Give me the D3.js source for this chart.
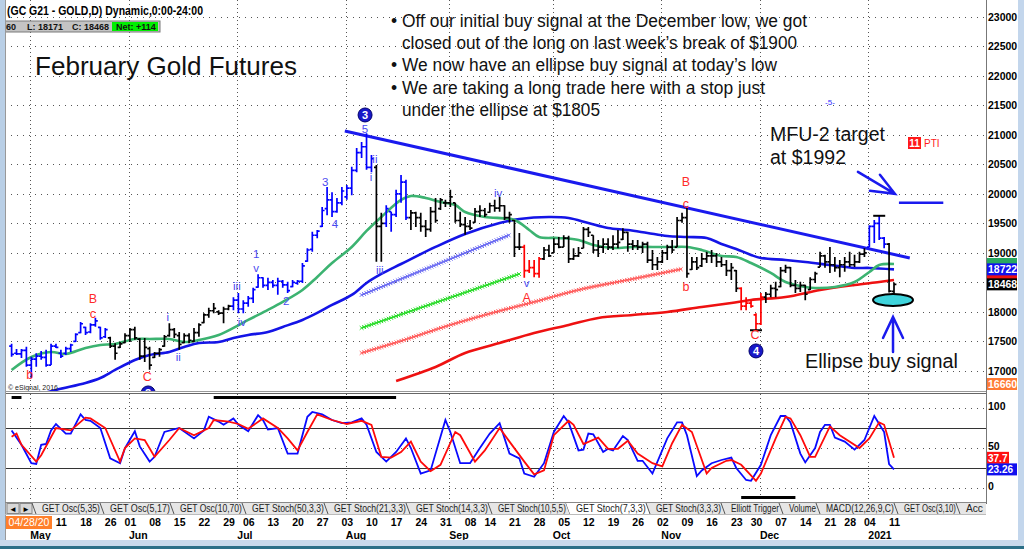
<!DOCTYPE html>
<html><head><meta charset="utf-8">
<script src="https://cdn.jsdelivr.net/npm/d3@7/dist/d3.min.js"></script>
<style>
html,body{margin:0;padding:0;background:#fff;overflow:hidden}
svg{display:block}
</style></head><body>
<svg id="chart" width="1024" height="549"></svg>
<script>
// ================= DATA =================
const firstDay = "2020-04-27", lastDay = "2021-01-11";
const holidays = ["2020-05-25","2020-07-03","2020-09-07","2020-11-26","2020-12-25","2021-01-01"];

// daily bars: [open, high, low, close]  (price x10, as on the axis)
const ohlc = [
[17420,17460,17240,17280],[17300,17370,17270,17290],[17290,17370,17220,17350],[17350,17410,17070,17100],
[17100,17240,16880,17200],[17200,17300,17070,17250],[17250,17340,17190,17230],[17230,17360,17070,17100],
[17100,17460,17100,17420],[17420,17460,17390,17400],[17300,17360,17220,17250],[17300,17410,17270,17380],
[17380,17460,17320,17440],[17500,17640,17490,17620],[17650,17830,17640,17800],[17740,17750,17610,17650],
[17660,17810,17640,17780],[17780,17900,17750,17850],[17740,17750,17530,17560],[17580,17730,17560,17700],
[17560,17580,17390,17420],[17420,17470,17190,17300],[17400,17490,17390,17460],[17480,17640,17470,17600],
[17600,17730,17490,17700],[17700,17750,17530,17560],[17540,17560,17190,17250],[17250,17560,17150,17400],
[17380,17410,17020,17100],[17230,17320,17220,17300],[17300,17390,17240,17360],[17420,17610,17410,17580],
[17600,17810,17580,17700],[17700,17730,17560,17620],[17600,17660,17360,17450],[17480,17640,17470,17600],
[17600,17640,17470,17520],[17500,17730,17490,17650],[17650,17810,17580,17780],[17820,17980,17810,17950],
[17950,18070,17900,18020],[18020,18150,17980,18060],[18000,18030,17950,17980],[17980,18090,17810,18050],
[18050,18120,18030,18100],[18100,18250,18030,18200],[18200,18320,17980,18050],[18050,18200,17980,18150],
[18150,18270,18090,18230],[18230,18410,18150,18380],[18420,18640,18410,18580],[18580,18590,18410,18450],
[18450,18580,18370,18500],[18500,18540,18410,18450],[18450,18580,18290,18520],[18520,18540,18410,18460],
[18460,18510,18320,18360],[18430,18540,18420,18500],[18490,18540,18460,18520],[18520,18830,18490,18780],
[18860,19080,18850,19050],[19060,19360,19020,19300],[19300,19390,19250,19370],[19450,19780,19440,19720],
[19750,20120,19640,19900],[19900,20030,19610,19700],[19700,19930,19680,19850],[19850,20120,19810,20050],
[19950,20150,19900,20100],[20100,20460,19980,20400],[20400,20780,20370,20700],[20700,20880,20610,20800],
[20800,21030,20410,20450],[20450,20660,20370,20600],[20450,20490,18850,19450],[19450,19680,18850,19500],
[19500,19810,19440,19750],[19700,19700,19360,19650],[19650,20070,19610,20000],[20000,20320,19850,20200],
[20200,20240,19560,19600],[19600,19730,19390,19680],[19680,19700,19440,19600],[19600,19680,19360,19450],
[19450,19560,19270,19400],[19400,19780,19360,19700],[19700,19930,19510,19550],[19750,19930,19730,19900],
[19850,19900,19780,19850],[19850,20070,19780,19950],[19850,19850,19510,19550],[19550,19700,19440,19480],
[19480,19610,19310,19450],[19450,19560,19390,19420],[19520,19760,19510,19700],[19700,19810,19610,19720],
[19720,19760,19610,19650],[19690,19850,19680,19800],[19800,19900,19700,19760],[19760,19950,19700,19800],
[19800,19810,19560,19600],[19600,19700,19510,19650],[19550,19560,18930,19100],[19100,19340,19050,19100],
[19100,19140,18580,18700],[18700,18880,18660,18750],[18750,18880,18590,18650],[18650,18930,18580,18900],
[18900,19100,18880,19050],[19050,19140,18930,18950],[19000,19250,19000,19150],[19150,19270,19080,19100],
[19100,19300,19100,19250],[19250,19290,18830,18900],[18900,19080,18880,18950],[18950,19100,18930,19000],
[19080,19440,19080,19400],[19400,19440,19270,19350],[19300,19300,19000,19050],[19050,19220,18930,19100],
[19100,19250,19000,19150],[19150,19250,19050,19100],[19100,19300,19050,19150],[19150,19390,19080,19180],
[19230,19420,19220,19350],[19350,19360,19020,19150],[19150,19220,19050,19120],[19120,19220,19050,19100],
[19100,19190,19000,19150],[19150,19190,18830,18880],[18880,19050,18710,18800],[18800,18930,18710,18850],
[18850,19050,18830,19000],[19000,19140,18880,19100],[19100,19220,19000,19050],[19100,19610,19100,19550],
[19550,19680,19510,19600],[19600,19760,18580,18650],[18720,18930,18710,18850],[18850,18930,18710,18750],
[18780,19000,18760,18900],[18900,19020,18830,18950],[18950,19050,18830,18950],[18950,19000,18760,18850],
[18850,18930,18760,18800],[18800,18880,18610,18700],[18700,18830,18540,18750],[18700,18710,18340,18400],
[18400,18420,18030,18100],[18100,18250,18030,18150],[18150,18200,18070,18100],[17950,17980,17690,17800],
[17800,18320,17780,18250],[18250,18340,18150,18300],[18300,18460,18250,18400],[18400,18510,18250,18380],
[18430,18760,18420,18700],[18700,18800,18660,18750],[18750,18760,18420,18450],[18450,18540,18320,18400],
[18400,18510,18340,18450],[18450,18460,18200,18300],[18380,18590,18370,18550],[18550,18680,18490,18650],
[18760,19020,18760,18950],[18950,18970,18750,18850],[18850,19100,18660,18800],[18800,18930,18680,18750],
[18750,18880,18590,18800],[18800,18930,18680,18850],[18850,19020,18760,18800],[18800,18970,18760,18850],
[18850,19020,18830,18980],[18980,19080,18930,19000],[19100,19470,19100,19450],[19450,19560,19170,19500],
[19500,19630,19220,19250],[19250,19270,19080,19150],[19150,19170,18330,18354],[18350,18500,18171,18468]
];
// Elliott-trigger colouring of the bars, as runs of consecutive bars
const trendRuns = [["up",20],["flat",25],["up",29],["flat",2],["up",5],["flat",23],["down",4],["flat",40],["down",5],["flat",21],["up",4],["flat",2]];

// moving averages: [bar index, value]
const maGreen = [[0,17017],[4,17237],[8,17322],[11,17288],[15,17390],[18,17440],[21,17457],[25,17542],[28,17542],[32,17542],[35,17491],[38,17525],[42,17610],[45,17729],[48,17864],[52,18034],[55,18169],[59,18373],[62,18593],[65,18830],[69,19102],[72,19373],[75,19610],[79,19898],[81,19966],[84,19932],[87,19864],[90,19813],[92,19695],[96,19610],[102,19559],[105,19390],[107,19271],[111,19254],[115,19220],[118,19136],[122,19085],[126,19102],[130,19102],[134,19102],[137,19102],[140,19051],[144,18949],[147,18932],[150,18830],[154,18661],[157,18508],[161,18424],[163,18407],[167,18424],[171,18508],[174,18678],[176,18796],[179,18813]];
const maBlue = [[3,16540],[9,16678],[15,16796],[18,16881],[21,17017],[25,17186],[28,17271],[32,17322],[35,17406],[38,17474],[42,17491],[45,17559],[48,17610],[52,17661],[55,17746],[59,17864],[62,17983],[65,18119],[69,18288],[72,18491],[75,18644],[79,18813],[86,19102],[92,19322],[99,19508],[103,19576],[109,19610],[113,19593],[117,19508],[121,19424],[125,19390],[129,19339],[133,19288],[137,19271],[141,19254],[144,19153],[147,19068],[150,18966],[152,18915],[157,18881],[161,18847],[166,18796],[171,18746],[174,18746],[179,18722]];
const maRed = [[78,16830],[86,17068],[92,17305],[99,17474],[106,17644],[113,17779],[119,17898],[126,17949],[133,18000],[140,18085],[146,18152],[150,18203],[157,18254],[164,18373],[171,18458],[176,18508],[179,18542]];
// projected (x-marked) channel lines
const projBlue = [[71,18288],[101,19305]];
const projGreen = [[71,17729],[103,18644]];
const projRed = [[71,17305],[79,17508],[89,17779],[99,18017],[106,18169],[115,18373],[125,18542],[136,18729]];
// drawn lines
const trendLine = [[67.6,21068],[182.2,18915]];
const targetLine = [[180,19850],[189,19850]];

// stochastic (7,3,3): [bar index, value]
const stochK = [[0,72],[2,54],[4,31],[5,30],[6,54],[7,55],[8,72],[9,80],[11,68],[12,68],[14,92],[15,85],[16,84],[18,75],[20,37],[22,31],[23,50],[25,71],[26,52],[28,33],[29,39],[31,70],[34,75],[37,62],[39,72],[40,89],[42,83],[43,79],[45,87],[46,79],[48,71],[50,91],[51,85],[52,73],[54,75],[56,43],[58,43],[60,89],[61,95],[63,92],[65,85],[67,81],[69,82],[71,87],[72,79],[74,45],[76,33],[78,45],[80,62],[81,50],[83,18],[85,22],[88,85],[89,70],[91,31],[93,31],[95,50],[97,68],[99,81],[101,43],[103,37],[104,18],[106,14],[108,31],[110,70],[112,90],[113,82],[115,47],[116,48],[117,68],[118,67],[120,45],[121,49],[122,47],[124,65],[125,60],[127,34],[128,34],[130,18],[133,62],[135,82],[136,82],[137,66],[139,15],[140,22],[142,31],[144,35],[146,38],[147,25],[149,10],[150,9],[152,29],[154,66],[156,90],[157,90],[158,82],[160,43],[161,32],[163,50],[164,70],[165,79],[166,79],[167,63],[169,58],[171,48],[173,60],[175,90],[177,70],[178,30],[179,23.26]];
const stochD = [[0,64],[1,68],[2,54],[5,33],[6,41],[9,75],[12,72],[15,88],[16,87],[19,75],[22,33],[23,50],[25,62],[27,60],[29,39],[32,60],[34,75],[37,66],[40,75],[41,85],[44,83],[46,80],[48,74],[51,87],[54,75],[56,62],[58,47],[60,70],[62,92],[65,85],[68,80],[71,84],[73,79],[75,39],[77,38],[79,45],[81,58],[83,33],[85,21],[87,29],[90,70],[91,66],[94,33],[96,47],[99,75],[101,58],[104,33],[106,17],[108,22],[110,66],[113,84],[114,79],[116,55],[119,63],[121,49],[123,49],[125,59],[127,43],[130,31],[132,27],[134,56],[136,79],[138,70],[141,18],[142,25],[145,34],[146,35],[148,29],[151,9],[152,18],[155,62],[157,89],[158,87],[160,66],[162,39],[163,39],[166,77],[168,66],[172,50],[174,62],[176,82],[177,79],[179,37.7]];
const oscTopBars = [[0,2],[41,78]];
const oscBottomBars = [[148,159]];

// axes
const priceTicks = d3.range(17000, 23001, 500);
const oscDotted = [0, 50, 100];
const oscSolid = [25, 75];
const weekTicks = ["2020-05-11","2020-05-18","2020-05-26","2020-06-01","2020-06-08","2020-06-15","2020-06-22","2020-06-29","2020-07-06","2020-07-13","2020-07-20","2020-07-27","2020-08-03","2020-08-10","2020-08-17","2020-08-24","2020-08-31","2020-09-08","2020-09-14","2020-09-21","2020-09-28","2020-10-05","2020-10-12","2020-10-19","2020-10-26","2020-11-02","2020-11-09","2020-11-16","2020-11-23","2020-11-30","2020-12-07","2020-12-14","2020-12-21","2020-12-28","2021-01-04","2021-01-11"];
const monthStarts = [["2020-05-01","May"],["2020-06-01","Jun"],["2020-07-01","Jul"],["2020-08-03","Aug"],["2020-09-01","Sep"],["2020-10-01","Oct"],["2020-11-02","Nov"],["2020-12-01","Dec"],["2021-01-04","2021"]];

// Elliott wave labels: [bar index, price, text, kind]
const waveLabels = [
 [71.7,21339,"3","circle"],[71.7,21102,"5","wave"],[73.7,20593,"ii","wave"],[72.9,20288,"i","wave"],[74.7,18712,"iii","wave"],
 [63.6,20203,"3","wave"],[65.6,19491,"4","wave"],[49.6,18983,"1","wave"],[49.6,18746,"v","wave"],[45.7,18441,"iii","wave"],
 [46.7,17830,"iv","wave"],[55.7,18186,"2","wave"],[31.7,17915,"i","wave"],[33.8,17237,"ii","wave"],
 [16.5,18220,"B","red"],[16.5,17966,"c","red"],[27.5,16898,"C","red"],[3.7,16932,"b","red"],[27.7,16627,"2","circle"],
 [98.7,20017,"iv","wave"],[104.5,18491,"v","wave"],[104.5,18237,"A","red"],
 [136.8,20203,"B","red"],[136.8,19830,"c","red"],[136.8,18424,"b","red"],[150.8,17610,"C","red"],[151,17339,"4","circle"]
];
const barMarks = [[176,"high"],[151,"low"]];
const ellipseAt = [178.8, 18203];

// header / text
const headerTitle = "(GC G21 - GOLD,D) Dynamic,0:00-24:00";
const headerStats = ["560","L: 18171","C: 18468"];
const headerNet = "Net: +114";
const chartTitle = "February Gold Futures";
const bullets = [["Off our initial buy signal at the December low, we got","closed out of the long on last week\u2019s break of $1900"],["We now have an ellipse buy signal at today\u2019s low"],["We are taking a long trade here with a stop just","under the ellipse at $1805"]];
const tabs = ["GET Osc(5,35)","GET Osc(5,17)","GET Osc(10,70)","GET Stoch(50,3,3)","GET Stoch(21,3,3)","GET Stoch(14,3,3)","GET Stoch(10,5,5)","GET Stoch(7,3,3)","GET Stoch(3,3,3)","Elliott Trigger","Volume","MACD(12,26,9,C)","GET Osc(3,10)","Acc"];
const activeTab = "GET Stoch(7,3,3)";

// ================= LAYOUT =================
const FONT = '"Liberation Sans", Arial, Helvetica, sans-serif';
const L = {plotL:5, plotR:986, mainB:391, oscT:394, oscB:500, axisX:988};
const tabSeps = [35,103,173,245,327,409,491,569,649,724,782,819,897,959,990];

const parse = d3.utcParse("%Y-%m-%d"), fmt = d3.utcFormat("%Y-%m-%d");
const days = d3.utcDay.range(parse(firstDay), d3.utcDay.offset(parse(lastDay),1))
  .filter(d => d.getUTCDay()%6 !== 0 && !holidays.includes(fmt(d)));
const idxOf = new Map(days.map((d,i)=>[fmt(d),i]));
if (days.length !== ohlc.length) console.error("length mismatch", days.length, ohlc.length);

const x = d3.scaleLinear().domain([0, ohlc.length-1]).range([11.6, 894]);
const y = d3.scaleLinear().domain([16660, 23288]).range([L.mainB, 0]);
const yo = d3.scaleLinear().domain([0,100]).range([488,408]);

const svg = d3.select("#chart").attr("font-family", FONT);
svg.append("rect").attr("width",1024).attr("height",549).attr("fill","#fff");

const defs = svg.append("defs");
defs.append("clipPath").attr("id","cm").append("rect").attr("x",L.plotL+1).attr("y",0).attr("width",L.plotR-L.plotL-1).attr("height",L.mainB);
defs.append("clipPath").attr("id","co").append("rect").attr("x",L.plotL+1).attr("y",L.oscT).attr("width",L.plotR-L.plotL-1).attr("height",L.oscB-L.oscT);

// condensed text helper: real geometric squeeze to a target width
function squeezeText(sel, targetW){
  const w = sel.node().getComputedTextLength();
  if (w > targetW){
    const x0 = +sel.attr("x"), y0 = +sel.attr("y");
    sel.attr("x",0).attr("y",0).attr("transform",`translate(${x0},${y0}) scale(${targetW/w},1)`);
  }
  return sel;
}

// ---------- main panel ----------
const gMain = svg.append("g").attr("clip-path","url(#cm)");
const monthIdx = monthStarts.map(([s])=>idxOf.get(s));
gMain.selectAll("line.hg").data(priceTicks).join("line")
  .attr("x1",L.plotL).attr("x2",L.plotR).attr("y1",d=>Math.round(y(d))+0.5).attr("y2",d=>Math.round(y(d))+0.5)
  .attr("stroke","#555").attr("stroke-dasharray","1,5");
gMain.selectAll("line.vg").data(monthIdx).join("line")
  .attr("x1",i=>Math.round(x(i))-0.5).attr("x2",i=>Math.round(x(i))-0.5).attr("y1",0).attr("y2",L.mainB)
  .attr("stroke","#555").attr("stroke-dasharray","1,3");

function crossLine(pts, color){
  const p = gMain.append("path").attr("d", d3.line().x(d=>x(d[0])).y(d=>y(d[1])).curve(d3.curveMonotoneX)(pts))
    .attr("stroke", color).attr("stroke-width", 1.3).attr("fill","none");
  const node = p.node(), len = node.getTotalLength();
  const m = d3.range(0, len, 2.6).map(l=>node.getPointAtLength(l));
  gMain.append("path").attr("d", m.map(q=>`M${q.x-1.9},${q.y-1.9}L${q.x+1.9},${q.y+1.9}M${q.x-1.9},${q.y+1.9}L${q.x+1.9},${q.y-1.9}`).join(""))
    .attr("stroke", color).attr("stroke-width", 1).attr("fill","none");
}
crossLine(projBlue, "#6c6cf2");
crossLine(projGreen, "#28dc28");
crossLine(projRed, "#ff5c5c");

const lineGen = d3.line().x(d=>x(d[0])).y(d=>y(d[1])).curve(d3.curveCatmullRom.alpha(0.5));
gMain.append("path").attr("d", lineGen(maRed)).attr("stroke","#ee1111").attr("stroke-width",2.6).attr("fill","none");
gMain.append("path").attr("d", lineGen(maBlue)).attr("stroke","#1414e6").attr("stroke-width",2.6).attr("fill","none");
gMain.append("path").attr("d", lineGen(maGreen)).attr("stroke","#3cb371").attr("stroke-width",2.6).attr("fill","none");
gMain.append("path").attr("d", d3.line().x(d=>x(d[0])).y(d=>y(d[1]))(trendLine)).attr("stroke","#1a1aee").attr("stroke-width",3).attr("fill","none");
gMain.append("path").attr("d", d3.line().x(d=>x(d[0])).y(d=>y(d[1]))(targetLine)).attr("stroke","#1a1aee").attr("stroke-width",2.5).attr("fill","none");

// price bars
const colorOf = {up:"#0000ff", flat:"#000000", down:"#ff0000"};
const trend = trendRuns.flatMap(([s,n])=>Array(n).fill(s));
gMain.selectAll("path.bar").data(ohlc).join("path").attr("class","bar")
  .attr("d",(d,i)=>{const c=x(i);return `M${c},${y(d[1])}V${y(d[2])}M${c-2.4},${y(d[0])}H${c}M${c},${y(d[3])}H${c+2.4}`;})
  .attr("stroke",(d,i)=>colorOf[trend[i]]).attr("stroke-width",1.7).attr("fill","none");

// bar markers (black bars on extreme highs/lows)
gMain.selectAll("line.bm").data(barMarks).join("line")
  .attr("x1",d=>x(d[0])-6).attr("x2",d=>x(d[0])+6)
  .attr("y1",d=>y(d[1]==="high"?ohlc[d[0]][1]:ohlc[d[0]][2])).attr("y2",d=>y(d[1]==="high"?ohlc[d[0]][1]:ohlc[d[0]][2]))
  .attr("stroke","#000").attr("stroke-width",2);

// wave labels
waveLabels.forEach(([k,v,t,kind])=>{
  const cx = x(k), cy = y(v);
  if (kind==="circle"){
    gMain.append("circle").attr("cx",cx).attr("cy",cy).attr("r",7).attr("fill","#1818c8").attr("stroke","#00006a").attr("stroke-width",1);
    gMain.append("text").attr("x",cx).attr("y",cy).attr("dy","0.36em").attr("text-anchor","middle")
      .attr("font-size",11).attr("font-weight","bold").attr("fill","#fff").text(t);
  } else {
    gMain.append("text").attr("x",cx).attr("y",cy).attr("dy","0.36em").attr("text-anchor","middle")
      .attr("font-size", kind==="red"?12.5:11.5).attr("fill", kind==="red"?"#ff2a2a":"#4a4af0").text(t);
  }
});

// ellipse + arrows
gMain.append("ellipse").attr("cx",x(ellipseAt[0])).attr("cy",y(ellipseAt[1])).attr("rx",20).attr("ry",6)
  .attr("fill","#3fd4dc").attr("stroke","#000").attr("stroke-width",2);
const arrowStyle = g=>g.attr("stroke","#1a1aee").attr("stroke-width",2.5).attr("fill","none").attr("stroke-linecap","round");
const upTipX = x(ellipseAt[0]), upTipY = y(ellipseAt[1]) + 17;
gMain.append("path").call(arrowStyle).attr("d",`M${upTipX},${upTipY+35}V${upTipY}M${upTipX-10},${upTipY+21}L${upTipX},${upTipY}L${upTipX+10},${upTipY+21}`);
const tgtTipX = x(targetLine[0][0]) - 4, tgtTipY = y(targetLine[0][1]) - 9;
gMain.append("path").call(arrowStyle).attr("d",`M${tgtTipX-37},${tgtTipY-22}L${tgtTipX},${tgtTipY}M${tgtTipX-15},${tgtTipY-19}L${tgtTipX},${tgtTipY}L${tgtTipX-25},${tgtTipY-3}`);

// text annotations
svg.append("text").attr("x",35).attr("y",75).attr("font-size",26).attr("fill","#111")
  .attr("textLength",262).attr("lengthAdjust","spacingAndGlyphs").text(chartTitle);
const bulletWidths = [[405,395],[375],[363,198]];
let lineNo = 0;
bullets.forEach((lines,bi)=>{
  lines.forEach((ln,li)=>{
    const yy = 27 + lineNo*22.2;
    if (li===0) svg.append("text").attr("x",391).attr("y",yy).attr("font-size",17.5).attr("fill","#111").text("\u2022");
    svg.append("text").attr("x",402).attr("y",yy).attr("font-size",17.5).attr("fill","#111")
      .attr("textLength",bulletWidths[bi][li]).attr("lengthAdjust","spacingAndGlyphs").text(ln);
    lineNo++;
  });
});
svg.append("text").attr("x",770).attr("y",141).attr("font-size",19.5).attr("fill","#111").attr("textLength",115).attr("lengthAdjust","spacingAndGlyphs").text("MFU-2 target");
svg.append("text").attr("x",770).attr("y",164).attr("font-size",19.5).attr("fill","#111").attr("textLength",76).attr("lengthAdjust","spacingAndGlyphs").text("at $1992");
svg.append("text").attr("x",805).attr("y",368).attr("font-size",20).attr("fill","#111").attr("textLength",153).attr("lengthAdjust","spacingAndGlyphs").text("Ellipse buy signal");
svg.append("text").attr("x",830).attr("y",105).attr("font-size",8).attr("text-anchor","middle").attr("fill","#3030ff").text("-5-");
svg.append("rect").attr("x",908).attr("y",137).attr("width",13).attr("height",12).attr("fill","#ff1a1a");
svg.append("text").attr("x",914.5).attr("y",147).attr("font-size",10).attr("font-weight","bold").attr("text-anchor","middle").attr("fill","#fff").text("11");
svg.append("text").attr("x",924).attr("y",147).attr("font-size",10).attr("fill","#ff1a1a").text("PTI");
svg.append("text").attr("x",8).attr("y",390).attr("font-size",7).attr("fill","#222").text("\u00a9 eSignal, 2016");

// header
svg.append("text").attr("x",7).attr("y",15).attr("font-size",12).attr("font-weight","bold").attr("fill","#000")
  .attr("textLength",196).attr("lengthAdjust","spacingAndGlyphs").text(headerTitle);
svg.append("rect").attr("x",0).attr("y",21).attr("width",160).attr("height",11).attr("fill","#c4c4c4").attr("stroke","#7a7a7a");
svg.append("rect").attr("x",112).attr("y",22).attr("width",46).attr("height",9).attr("fill","#00f000");
[[1,headerStats[0]],[27,headerStats[1]],[72,headerStats[2]]].forEach(([xx,t])=>
  svg.append("text").attr("x",xx).attr("y",30).attr("font-size",9).attr("font-weight","bold").attr("fill","#111").text(t));
svg.append("text").attr("x",116).attr("y",30).attr("font-size",9).attr("font-weight","bold").attr("fill","#111").text(headerNet);

// ---------- oscillator panel ----------
const gOsc = svg.append("g").attr("clip-path","url(#co)");
gOsc.selectAll("line.og").data(oscDotted).join("line")
  .attr("x1",L.plotL).attr("x2",L.plotR).attr("y1",d=>Math.round(yo(d))+0.5).attr("y2",d=>Math.round(yo(d))+0.5)
  .attr("stroke","#555").attr("stroke-dasharray","1,5");
gOsc.selectAll("line.os").data(oscSolid).join("line")
  .attr("x1",L.plotL).attr("x2",L.plotR).attr("y1",d=>Math.round(yo(d))+0.5).attr("y2",d=>Math.round(yo(d))+0.5)
  .attr("stroke","#333").attr("stroke-width",1.2);
gOsc.selectAll("line.ovg").data(monthIdx).join("line")
  .attr("x1",i=>Math.round(x(i))-0.5).attr("x2",i=>Math.round(x(i))-0.5).attr("y1",L.oscT).attr("y2",L.oscB)
  .attr("stroke","#555").attr("stroke-dasharray","1,3");
const oscLine = d3.line().x(d=>x(d[0])).y(d=>yo(d[1]));
gOsc.append("path").attr("d",oscLine(stochK)).attr("stroke","#0a0aff").attr("stroke-width",1.8).attr("fill","none");
gOsc.append("path").attr("d",oscLine(stochD)).attr("stroke","#ff0a0a").attr("stroke-width",1.8).attr("fill","none");
gOsc.selectAll("line.tb").data(oscTopBars).join("line").attr("x1",d=>x(d[0])).attr("x2",d=>x(d[1])).attr("y1",397.5).attr("y2",397.5).attr("stroke","#000").attr("stroke-width",3);
gOsc.selectAll("line.bb").data(oscBottomBars).join("line").attr("x1",d=>x(d[0])).attr("x2",d=>x(d[1])).attr("y1",497.5).attr("y2",497.5).attr("stroke","#000").attr("stroke-width",3);

// panel borders
svg.append("line").attr("x1",L.plotL).attr("x2",L.plotR).attr("y1",391.5).attr("y2",391.5).attr("stroke","#999");
svg.append("line").attr("x1",L.plotL).attr("x2",L.plotR).attr("y1",393.5).attr("y2",393.5).attr("stroke","#666");
svg.append("line").attr("x1",L.plotR+0.5).attr("x2",L.plotR+0.5).attr("y1",0).attr("y2",504).attr("stroke","#777");
svg.append("line").attr("x1",L.plotL+0.5).attr("x2",L.plotL+0.5).attr("y1",0).attr("y2",540).attr("stroke","#999");

// ---------- right axes ----------
const styleAxis = (dy)=>g=>{g.select(".domain").remove();g.attr("font-family",FONT);g.selectAll("text").attr("font-size",10.5).attr("font-weight","bold").attr("fill","#000").attr("dy",dy);};
svg.append("g").attr("transform",`translate(${L.axisX},0)`)
  .call(d3.axisRight(y).tickValues(priceTicks).tickSize(0).tickPadding(0).tickFormat(d3.format("d"))).call(styleAxis("0.32em"));
svg.append("g").attr("transform",`translate(${L.axisX},0)`)
  .call(d3.axisRight(yo).tickValues(oscDotted).tickSize(0).tickPadding(0).tickFormat(d3.format("d"))).call(styleAxis("0.12em"));

// value boxes (green/red ones are almost fully hidden in the reference: colour edge only)
function valueBox(cy, bg, w, txt, fs, dy){
  svg.append("rect").attr("x",L.axisX-1).attr("y",cy-6).attr("width",w).attr("height",12).attr("fill",bg);
  if (txt!=null) svg.append("text").attr("x",L.axisX).attr("y",cy).attr("dy",dy).attr("font-size",fs).attr("font-weight","bold").attr("fill","#fff").text(txt);
}
const last = ohlc[ohlc.length-1];
const gLast = maGreen[maGreen.length-1][1], rLast = maRed[maRed.length-1][1], bLast = maBlue[maBlue.length-1][1];
valueBox(y(gLast), "#28a860", 30, null);
valueBox(y(rLast), "#ee1111", 30, null);
valueBox(y(bLast), "#1010ee", 30, String(bLast), 10.5, "0.36em");
valueBox(y(last[3]), "#000", 30, String(last[3]), 10.5, "0.36em");
valueBox(384, "#ff7a33", 30, String(y.domain()[0]), 10.5, "0.36em");
const kLast = stochK[stochK.length-1][1], dLast = stochD[stochD.length-1][1];
valueBox(yo(dLast), "#ff1010", 22, String(dLast), 10, "0.38em");
valueBox(yo(kLast), "#1010ee", 30, String(kLast), 10, "0.38em");

// ---------- tabs ----------
const gTabs = svg.append("g");
gTabs.append("rect").attr("x",L.plotL+1).attr("y",502).attr("width",L.plotR-L.plotL-1).attr("height",12).attr("fill","#e6e6e6");
gTabs.append("line").attr("x1",L.plotL).attr("x2",L.plotR).attr("y1",502.5).attr("y2",502.5).attr("stroke","#888");
gTabs.append("line").attr("x1",L.plotL).attr("x2",L.plotR).attr("y1",514.5).attr("y2",514.5).attr("stroke","#bbb");
[[7,"\u25C4"],[20,"\u25BA"]].forEach(([bx,t])=>{
  gTabs.append("rect").attr("x",bx).attr("y",503.5).attr("width",12).attr("height",10).attr("fill","#d8d8d8").attr("stroke","#888");
  gTabs.append("text").attr("x",bx+6).attr("y",512).attr("text-anchor","middle").attr("font-size",8).attr("fill","#000").text(t);
});
tabs.forEach((t,i)=>{
  const a = tabSeps[i], b = tabSeps[i+1];
  if (t===activeTab) gTabs.append("path").attr("d",`M${a-3},503H${b-3}L${b+1},514H${a+1}Z`).attr("fill","#fff");
  gTabs.append("line").attr("x1",b-3).attr("y1",503).attr("x2",b+1).attr("y2",514).attr("stroke","#555");
  const tx = gTabs.append("text").attr("x",a+7).attr("y",512).attr("font-size",10.5).attr("fill","#222").text(t);
  squeezeText(tx, Math.min(b-a-10, 983-a-7));
});
gTabs.append("line").attr("x1",tabSeps[0]-3).attr("y1",503).attr("x2",tabSeps[0]+1).attr("y2",514).attr("stroke","#555");
svg.append("rect").attr("x",L.plotR+1).attr("y",500).attr("width",31).attr("height",40).attr("fill","#fff");

// ---------- bottom date axis ----------
const gx = svg.append("g").attr("transform","translate(0,522)")
  .call(d3.axisBottom(x).tickValues(weekTicks.map(s=>idxOf.get(s))).tickSize(0).tickPadding(0)
    .tickFormat(i=>d3.utcFormat("%d")(days[i])));
gx.select(".domain").remove();
gx.attr("font-family",FONT);
gx.selectAll("text").attr("y",0).attr("dy","0.36em").attr("font-size",10.5).attr("font-weight","bold").attr("fill","#000");
svg.append("rect").attr("x",6).attr("y",516).attr("width",46).attr("height",13).attr("fill","#ff7f2a");
svg.append("text").attr("x",29).attr("y",522.5).attr("dy","0.36em").attr("text-anchor","middle").attr("font-size",10.5).attr("fill","#fff").text(d3.utcFormat("%m/%d/%y")(parse("2020-04-28")));
svg.selectAll("text.month").data(monthStarts).join("text").attr("class","month")
  .attr("x",d=>x(idxOf.get(d[0]))-1).attr("y",539).attr("font-size",10.5).attr("font-weight","bold").attr("fill","#000").text(d=>d[1]);

// ---------- window frame ----------
svg.append("rect").attr("x",0).attr("y",0).attr("width",5).attr("height",540).attr("fill","#b9cfe6");
svg.append("rect").attr("x",1018).attr("y",0).attr("width",6).attr("height",540).attr("fill","#c3d6ec");
svg.append("rect").attr("x",0).attr("y",540).attr("width",1024).attr("height",6).attr("fill","#c8d9ea");
svg.append("rect").attr("x",0).attr("y",546).attr("width",1024).attr("height",3).attr("fill","#2b6f86");
</script>
</body></html>
